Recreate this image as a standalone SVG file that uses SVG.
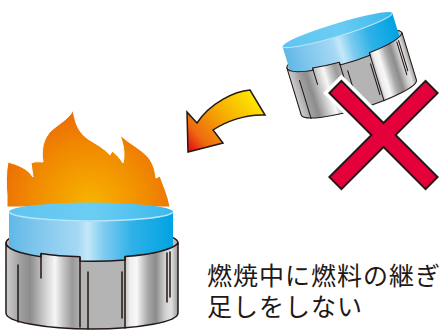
<svg xmlns="http://www.w3.org/2000/svg" xmlns:xlink="http://www.w3.org/1999/xlink" width="444" height="331" viewBox="0 0 444 331">
  <style>
    .edge { stroke: #231815; stroke-width: 1.5; stroke-linejoin: round; stroke-linecap: round; }
    .seam { fill: none; stroke: #231815; stroke-width: 1.5; stroke-linecap: round; }
    .caption { font-family: "Noto Sans CJK JP", "Noto Sans", sans-serif; font-size: 25px; letter-spacing: 1px; fill: #231815; }
  </style>
  <defs>
    <linearGradient id="metal" gradientUnits="userSpaceOnUse" x1="6" y1="0" x2="178" y2="0">
      <stop offset="0" stop-color="#cfcfcf"/>
      <stop offset="0.081" stop-color="#a0a0a0"/>
      <stop offset="0.14" stop-color="#8c8c8c"/>
      <stop offset="0.227" stop-color="#cfcfcf"/>
      <stop offset="0.285" stop-color="#f7f7f7"/>
      <stop offset="0.33" stop-color="#c8c8c8"/>
      <stop offset="0.384" stop-color="#9a9a9a"/>
      <stop offset="0.44" stop-color="#b4b4b4"/>
      <stop offset="0.686" stop-color="#b4b4b4"/>
      <stop offset="0.72" stop-color="#eeeeee"/>
      <stop offset="0.76" stop-color="#f8f8f8"/>
      <stop offset="0.826" stop-color="#a6a6a6"/>
      <stop offset="0.872" stop-color="#8c8c8c"/>
      <stop offset="0.924" stop-color="#cfcfcf"/>
      <stop offset="0.96" stop-color="#e2e2e2"/>
      <stop offset="1" stop-color="#9a9a9a"/>
    </linearGradient>
    <linearGradient id="capSide" gradientUnits="userSpaceOnUse" x1="9" y1="0" x2="173" y2="0">
      <stop offset="0" stop-color="#5fb8e6"/>
      <stop offset="0.15" stop-color="#7cc5ec"/>
      <stop offset="0.42" stop-color="#a5d8f4"/>
      <stop offset="0.48" stop-color="#c4e8f9"/>
      <stop offset="0.58" stop-color="#7dcbf0"/>
      <stop offset="0.75" stop-color="#2fb1e8"/>
      <stop offset="1" stop-color="#00a3e2"/>
    </linearGradient>
    <linearGradient id="capTop" gradientUnits="userSpaceOnUse" x1="9" y1="0" x2="173" y2="0">
      <stop offset="0" stop-color="#5ec4ef"/>
      <stop offset="0.5" stop-color="#6ccdf3"/>
      <stop offset="1" stop-color="#3bb8ec"/>
    </linearGradient>
    <radialGradient id="fire" gradientUnits="userSpaceOnUse" cx="90" cy="205" r="115">
      <stop offset="0" stop-color="#f8b400"/>
      <stop offset="0.5" stop-color="#f18b00"/>
      <stop offset="1" stop-color="#e95a0c"/>
    </radialGradient>
    <linearGradient id="arrowFill" gradientUnits="userSpaceOnUse" x1="258" y1="92" x2="188" y2="152">
      <stop offset="0" stop-color="#fff100"/>
      <stop offset="0.45" stop-color="#f6ac00"/>
      <stop offset="0.8" stop-color="#ee6a10"/>
      <stop offset="1" stop-color="#e50012"/>
    </linearGradient>

    <!-- windscreen can with blue fuel cap, drawn upright -->
    <g id="stove">
      <ellipse cx="92" cy="243" rx="86" ry="16" fill="#b9b9b9" class="edge"/>
      <path d="M9,212 L9,262 L173,262 L173,212 Z" fill="url(#capSide)"/>
      <ellipse cx="91" cy="212" rx="82" ry="9.5" fill="url(#capTop)"/>
      <path d="M9.5,212.5 A82,9.5 0 0 0 172.5,212.5" fill="none" stroke="#b8e5f9" stroke-width="1.6"/>
      <path class="edge" fill="url(#metal)" d="M6,243 A86,17 0 0 0 41,256.7 L41,253.5 A86,17 0 0 0 80,256.8 L80,261 A86,17 0 0 0 125,260 L125,256.5 A86,17 0 0 0 178,243 L178,313 A86,16 0 0 1 6,313 Z"/>
      <path class="seam" d="M18,265 V322 M41,254 V278 M80,258 V327 M88,272 V329 M122,272 V318 M125,257 V328 M167,253 V302 M170,252 V297"/>
    </g>
  </defs>

  <!-- lit stove with flame -->
  <g id="stove-lit">
    <path fill="url(#fire)" stroke="#ffffff" stroke-width="1" d="M7,207 L7,195 C6,185 6,172 8,162 C18,165 27,168 33,177 L31,163 C35,161 40,162 43,162 C41,150 43,138 52,130 C60,123 70,118 73,110 C75,122 78,132 88,139 C96,144 104,148 110,155 L112,151 C115,153 119,157 123,163 C125,155 124,146 120,135 C128,143 140,148 148,157 C153,163 155,170 156,178 L160,176 C163,185 168,195 170,207 Z"/>
    <use xlink:href="#stove" href="#stove"/>
  </g>

  <!-- stove lifted off for refuelling -->
  <g id="stove-refill">
    <use xlink:href="#stove" href="#stove" transform="translate(337.5,30) rotate(-17) scale(0.7) translate(-91,-212)"/>
  </g>

  <!-- prohibition cross -->
  <g id="cross">
    <polygon points="341.43,80.91 383.5,122.98 425.57,80.91 437.59,92.93 395.52,135 437.59,177.07 425.57,189.09 383.5,147.02 341.43,189.09 329.41,177.07 371.48,135 329.41,92.93" fill="#ffffff" stroke="#ffffff" stroke-width="9" stroke-linejoin="miter"/>
    <polygon points="341.43,80.91 383.5,122.98 425.57,80.91 437.59,92.93 395.52,135 437.59,177.07 425.57,189.09 383.5,147.02 341.43,189.09 329.41,177.07 371.48,135 329.41,92.93" fill="#e4003a" stroke="#231815" stroke-width="2" stroke-linejoin="miter"/>
  </g>

  <!-- curved arrow -->
  <g id="connectors">
    <path fill="url(#arrowFill)" stroke="#231815" stroke-width="1.5" stroke-linejoin="miter" d="M250,90 C235,91 210,103 197,123 L187,112 L188,152 L223,143 L213,130 C225,122 245,114 265,115 Z"/>
  </g>

  <!-- caption, two lines -->
  <g id="caption">
    <text class="caption"><tspan x="207" y="284.5">燃焼中に燃料の継ぎ</tspan><tspan x="207" y="315.5">足しをしない</tspan></text>
  </g>
</svg>
